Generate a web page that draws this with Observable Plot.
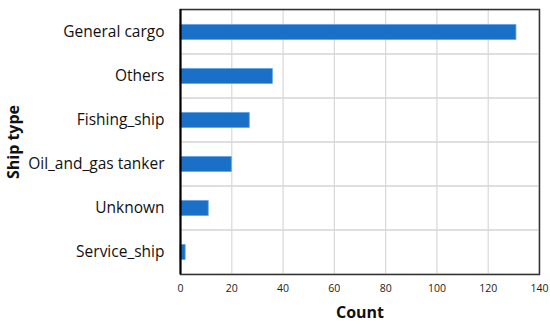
<!DOCTYPE html>
<html>
<head>
<meta charset="utf-8">
<script src="https://cdn.jsdelivr.net/npm/d3@7"></script>
<script src="https://cdn.jsdelivr.net/npm/@observablehq/plot@0.6"></script>
<style>
html,body{margin:0;padding:0;background:#fff;}
</style>
</head>
<body>
<div id="chart"></div>
<script>
const shipTypes = ["General cargo", "Others", "Fishing_ship", "Oil_and_gas tanker", "Unknown", "Service_ship"];
const counts = [131, 36, 27, 20, 11, 2];
const xTicks = [0, 20, 40, 60, 80, 100, 120, 140];

const data = shipTypes.map((t, i) => ({type: t, count: counts[i]}));
const font = "'Open Sans', sans-serif";

const chart = Plot.plot({
  width: 550,
  height: 324,
  marginLeft: 180,
  marginRight: 11,
  marginTop: 9,
  marginBottom: 50,
  style: {fontFamily: font, background: "#fff"},
  x: {domain: [0, 140], ticks: xTicks, label: null},
  y: {domain: shipTypes, padding: 0, label: null},
  marks: [
    Plot.gridX(xTicks.slice(1, -1), {stroke: "#d9d9d9", strokeOpacity: 1, strokeWidth: 1.2}),
    Plot.barX(data, {y: "type", x1: 0, x2: 140, fill: "none", stroke: "#d9d9d9", strokeWidth: 1.2}),
    Plot.barX(data, {y: "type", x: "count", fill: "#1a6fc6", stroke: "#5aa0e6", strokeWidth: 0.8, insetTop: 14.6, insetBottom: 14.6}),
    Plot.frame({stroke: "#333", strokeWidth: 1.5}),
    Plot.ruleX([0], {stroke: "#000", strokeWidth: 2}),
    Plot.axisY({tickSize: 0, tickPadding: 16, fontSize: 15.5, fill: "#111", label: null}),
    Plot.axisX({ticks: xTicks, tickSize: 0, tickPadding: 10, fontSize: 10.5, fill: "#222", label: null}),
    Plot.text(["Count"], {frameAnchor: "bottom", lineAnchor: "middle", textAnchor: "middle", dy: 38, fontSize: 16, fontWeight: "bold", fill: "#111"}),
    Plot.text(["Ship type"], {frameAnchor: "left", textAnchor: "middle", lineAnchor: "middle", dx: -167, rotate: -90, fontSize: 16, fontWeight: "bold", fill: "#111"})
  ]
});
document.getElementById("chart").appendChild(chart);
</script>
</body>
</html>
